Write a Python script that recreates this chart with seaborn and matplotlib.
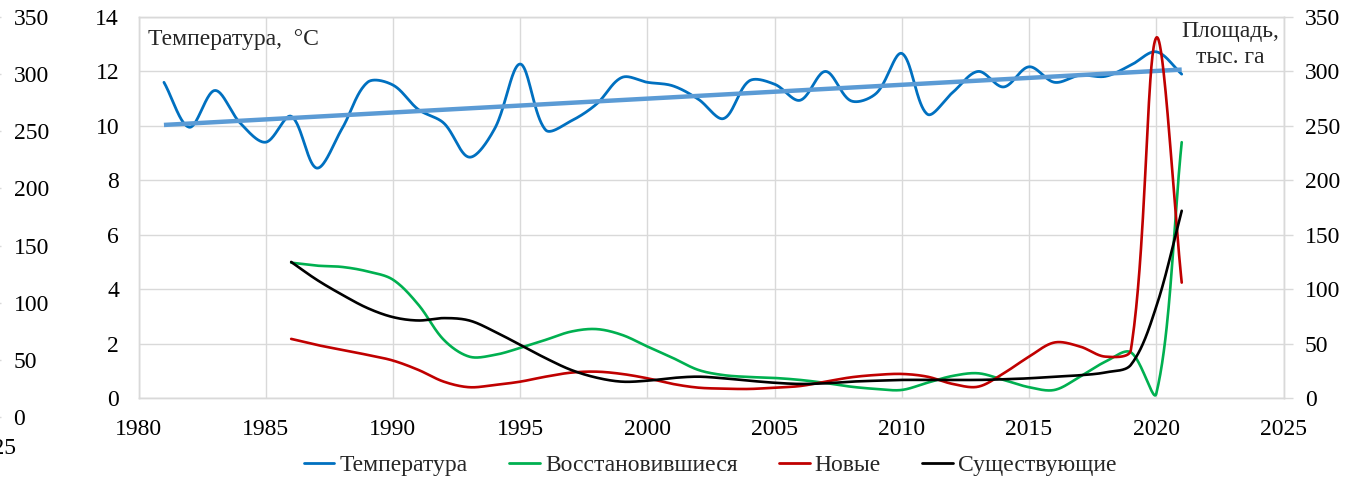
import numpy as np
import pandas as pd
import matplotlib
matplotlib.use("Agg")
import matplotlib.pyplot as plt
from matplotlib.lines import Line2D
import seaborn as sns

# ---------------- data ----------------
years_temp = list(range(1981, 2022))
temperature = [11.6, 9.95, 11.3, 10.1, 9.4, 10.35, 8.45, 9.9, 11.6, 11.5,
               10.6, 10.1, 8.85, 9.9, 12.27, 9.85, 10.18, 10.8, 11.78, 11.6,
               11.47, 10.98, 10.27, 11.65, 11.53, 10.94, 12.0, 10.92, 11.2, 12.66,
               10.43, 11.23, 12.0, 11.43, 12.17, 11.6, 11.86, 11.82, 12.23, 12.72,
               11.9]

years_area = list(range(1986, 2022))
recovered = [124.3, 121.6, 120.4, 116.3, 108.7, 85.7, 53.4, 38.0, 39.6, 46.0,
             53.4, 61.0, 63.3, 58.0, 47.3, 36.8, 25.8, 21.0, 19.3, 18.4,
             16.6, 13.8, 10.4, 8.3, 7.4, 14.0, 20.3, 22.7, 16.6, 9.9,
             7.4, 19.6, 33.4, 42.0, 4.0, 235.0]
new = [54.3, 48.8, 44.2, 39.6, 34.4, 25.8, 15.0, 9.9, 12.0, 15.0,
       19.6, 23.3, 24.2, 22.1, 18.1, 12.9, 9.5, 8.6, 8.3, 9.5,
       11.0, 15.0, 19.0, 21.2, 22.1, 19.6, 12.9, 10.4, 22.7, 38.0,
       51.0, 47.3, 38.0, 44.0, 331.0, 106.0]
existing = [125.0, 108.7, 94.9, 82.6, 74.3, 71.2, 73.4, 71.2, 61.0, 48.8,
            36.6, 25.8, 18.7, 15.0, 15.9, 18.4, 19.6, 18.1, 15.9, 14.0,
            12.9, 13.5, 15.0, 15.9, 16.6, 16.6, 16.6, 16.6, 17.2, 18.1,
            19.6, 20.9, 23.5, 30.4, 84.0, 172.0]

legend_labels = ["Температура", "Восстановившиеся", "Новые", "Существующие"]
x_ticks = list(range(1980, 2030, 5))
temp_ticks = list(range(0, 16, 2))
area_ticks = list(range(0, 400, 50))

# ---------------- layout constants ----------------
W, H = 1345, 491
L, R, T, B = 138.5, 1283.5, 17, 398
PX_PER_YEAR = (R - L) / 45.0
PX_PER_TEMP = (B - T) / 14.0
PX_PER_AREA = (B - T) / 350.0

# ---------------- helpers ----------------
def excel_smooth(x, y, sy, sx=PX_PER_YEAR, n=40):
    """Excel-like smoothed line: Bezier through the points, control arms
    scaled by neighbouring segment lengths (computed in screen units)."""
    P = np.column_stack([np.asarray(x, float) * sx, np.asarray(y, float) * sy])
    Pp = np.vstack([P[0], P, P[-1]])
    t = np.linspace(0, 1, n)[:, None]
    out = []
    for i in range(len(P) - 1):
        p0, p1, p2, p3 = Pp[i], Pp[i + 1], Pp[i + 2], Pp[i + 3]
        d01 = np.linalg.norm(p1 - p0)
        d12 = np.linalg.norm(p2 - p1)
        d23 = np.linalg.norm(p3 - p2)
        f1 = d12 / (d01 + d12) if d01 + d12 > 0 else 0.0
        f2 = d12 / (d12 + d23) if d12 + d23 > 0 else 0.0
        c1 = p1 + (p2 - p0) * f1 / 3.0
        c2 = p2 - (p3 - p1) * f2 / 3.0
        seg = ((1 - t) ** 3) * p1 + 3 * ((1 - t) ** 2) * t * c1 + 3 * (1 - t) * t ** 2 * c2 + t ** 3 * p2
        out.append(seg if i == 0 else seg[1:])
    s = np.vstack(out)
    return pd.DataFrame({"x": s[:, 0] / sx, "y": s[:, 1] / sy})

# ---------------- style ----------------
sns.set_theme(style="white")
plt.rcParams["font.family"] = ["Liberation Serif", "DejaVu Serif"]
FS = 17
GRID = "#D9D9D9"
C_TEMP = "#0070C0"
C_TREND = "#5B9BD5"
C_GREEN = "#00B050"
C_RED = "#C00000"
C_BLACK = "#000000"

fig = plt.figure(figsize=(W / 100, H / 100), dpi=100)
ax = fig.add_axes([L / W, (H - B) / H, (R - L) / W, (B - T) / H])
ax2 = ax.twinx()

# temperature (left axis)
d = excel_smooth(years_temp, temperature, PX_PER_TEMP)
sns.lineplot(data=d, x="x", y="y", ax=ax, color=C_TEMP, lw=2.0, sort=False, estimator=None)
coef = np.polyfit(years_temp, temperature, 1)
trend = pd.DataFrame({"x": [years_temp[0], years_temp[-1]],
                      "y": np.polyval(coef, [years_temp[0], years_temp[-1]])})
sns.lineplot(data=trend, x="x", y="y", ax=ax, color=C_TREND, lw=3.2, sort=False, estimator=None,
             solid_capstyle="butt")

# areas (right axis)
for vals, col in [(recovered, C_GREEN), (new, C_RED), (existing, C_BLACK)]:
    d = excel_smooth(years_area, vals, PX_PER_AREA)
    sns.lineplot(data=d, x="x", y="y", ax=ax2, color=col, lw=1.9, sort=False, estimator=None)

ax.set_xlim(1980, 2025)
ax.set_ylim(0, 14)
ax2.set_ylim(0, 350)
ax.set_xticks(x_ticks)
ax.set_yticks(temp_ticks)
ax2.set_yticks(area_ticks)
ax.set_xlabel("")
ax.set_ylabel("")
ax2.set_ylabel("")
ax.grid(True, color=GRID, lw=1.0)
ax.set_axisbelow(True)
for a in (ax, ax2):
    for sp in a.spines.values():
        sp.set_color(GRID)
        sp.set_linewidth(1.0)
ax.tick_params(axis="x", length=0, pad=15, labelsize=FS, labelcolor="black")
ax.tick_params(axis="y", length=0, pad=14, labelsize=FS, labelcolor="black")
ax2.tick_params(axis="y", length=6.5, width=1.0, color=GRID, pad=9, labelsize=FS, labelcolor="black")

ax.text(0.008, 0.942, "Температура,  °C", transform=ax.transAxes, ha="left", va="center", fontsize=FS)
ax.text(0.9965, 0.99, "Площадь,\nтыс. га", transform=ax.transAxes, ha="right", va="top",
        multialignment="center", fontsize=FS, linespacing=1.3)

# ghost (clipped) copy of the right axis at the far left edge
GR = -8
GT, GB = 17, 417
gx = fig.add_axes([(GR - (R - L)) / W, (H - GB) / H, (R - L) / W, (GB - GT) / H])
gx.patch.set_visible(False)
for sp in gx.spines.values():
    sp.set_visible(False)
gx.set_xlim(1980, 2025)
gx.set_ylim(0, 350)
gx.set_xticks(x_ticks)
gx.set_yticks(area_ticks)
gx.yaxis.tick_right()
gx.tick_params(axis="y", length=6.5, width=1.0, color=GRID, pad=9, labelsize=FS, labelcolor="black")
gx.tick_params(axis="x", length=0, pad=15, labelsize=FS, labelcolor="black")
gx.grid(False)

# legend
handles = [Line2D([0], [0], color=c, lw=2.0) for c in (C_TEMP, C_GREEN, C_RED, C_BLACK)]
fig.legend(handles, legend_labels, loc="center", bbox_to_anchor=(0.528, (H - 465) / H), ncol=4,
           frameon=False, fontsize=FS, handlelength=1.3, handletextpad=0.22, columnspacing=1.75)

fig.savefig("out.png", dpi=100)
